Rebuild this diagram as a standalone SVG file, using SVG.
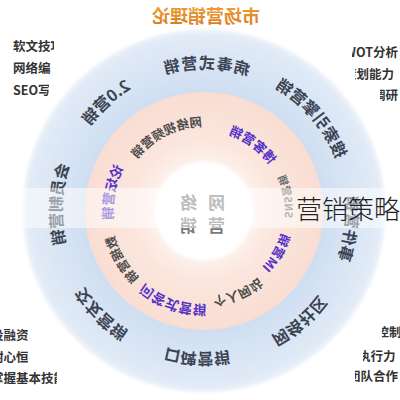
<svg xmlns="http://www.w3.org/2000/svg" width="400" height="400" viewBox="0 0 400 400">
<defs>
<style>
text{font-family:"Noto Sans CJK SC","Noto Sans",sans-serif;font-weight:700}
.side{font-size:12.5px;fill:#333}
.outer{font-size:16px;fill:#3b4352}
.ig{font-size:12.5px;fill:#4d4d4d}
.ip{font-size:13.5px;fill:#5530c8}
.ctr{font-size:17px;fill:#7a7a7a}
</style>
<radialGradient id="gBlue" gradientUnits="userSpaceOnUse" cx="204" cy="211" r="185">
<stop offset="0.64" stop-color="#cedef1"/>
<stop offset="0.95" stop-color="#e2ebf7"/>
<stop offset="0.975" stop-color="#eef3fa"/>
<stop offset="1" stop-color="#ffffff" stop-opacity="0"/>
</radialGradient>
<radialGradient id="gPink" gradientUnits="userSpaceOnUse" cx="204" cy="211" r="119">
<stop offset="0.4" stop-color="#fdf1ec"/>
<stop offset="0.6" stop-color="#fbe6dd"/>
<stop offset="1" stop-color="#f9ddd2"/>
</radialGradient>
<radialGradient id="gWhite" gradientUnits="userSpaceOnUse" cx="204" cy="211" r="52">
<stop offset="0.9" stop-color="#ffffff"/>
<stop offset="1" stop-color="#ffffff" stop-opacity="0"/>
</radialGradient>
<linearGradient id="gTitle" x1="0" y1="0" x2="0" y2="1">
<stop offset="0" stop-color="#f2a63a"/>
<stop offset="1" stop-color="#d9781c"/>
</linearGradient>
<clipPath id="cTL1"><rect x="0" y="30" width="54" height="30"/></clipPath>
<clipPath id="cTL2"><rect x="0" y="58" width="51" height="22"/></clipPath>
<clipPath id="cTL3"><rect x="0" y="80" width="49" height="22"/></clipPath>
<clipPath id="cTR1"><rect x="352" y="40" width="48" height="22"/></clipPath>
<clipPath id="cTR2"><rect x="355" y="62" width="45" height="22"/></clipPath>
<clipPath id="cTR3"><rect x="380" y="84" width="20" height="22"/></clipPath>
<clipPath id="cBR1"><rect x="382" y="322" width="18" height="22"/></clipPath>
<clipPath id="cBR2"><rect x="363" y="346" width="37" height="22"/></clipPath>
<clipPath id="cBR3"><rect x="355" y="367" width="45" height="22"/></clipPath>
<clipPath id="cBL1"><rect x="0" y="325" width="28" height="22"/></clipPath>
<clipPath id="cBL2"><rect x="0" y="347" width="28" height="22"/></clipPath>
<clipPath id="cBL3"><rect x="0" y="368" width="57" height="22"/></clipPath>
<path id="p1" d="M176.24,70.38 A142,142 0 0 1 337.91,215.96"/>
<path id="p2" d="M85.64,121.64 A142,142 0 0 1 303.17,117.84"/>
<path id="p3" d="M55.87,233.95 A142,142 0 0 1 197.74,69.01"/>
<path id="p4" d="M118.66,330.09 A142,142 0 0 1 92.15,114.16"/>
<path id="p5" d="M218.21,351.25 A142,142 0 0 1 54.02,208.52"/>
<path id="p6" d="M308.96,297.05 A142,142 0 0 1 91.64,307.30"/>
<path id="p7" d="M337.46,198.62 A142,142 0 0 1 183.62,352.46"/>
<path id="p8" d="M282.05,98.04 A142,142 0 0 1 292.30,315.36"/>
<path id="qa" d="M162.58,133.39 A84.5,84.5 0 0 1 278.23,191.56"/>
<path id="qb" d="M116.16,205.98 A80,80 0 0 1 214.81,133.24"/>
<path id="qc" d="M133.95,263.07 A81,81 0 0 1 155.5,140.85"/>
<path id="qd" d="M182.04,290.18 A80.4,80.4 0 0 1 120.45,183.50"/>
<path id="qe" d="M235.71,287.28 A86,86 0 0 1 113.98,236.86"/>
<path id="qf" d="M283.76,244.69 A94,94 0 0 1 147.59,291.57"/>
<path id="qg" d="M283.67,179.96 A93,93 0 0 1 211.35,302.72"/>
<path id="qh" d="M239.42,131.03 A91,91 0 0 1 267.22,267.65"/>
</defs>
<rect width="400" height="400" fill="#ffffff"/>
<g id="side-lists">
<text class="side" x="13" y="51" clip-path="url(#cTL1)">软文技巧</text>
<text class="side" x="13" y="73" clip-path="url(#cTL2)">网络编辑</text>
<text class="side" x="13" y="95" clip-path="url(#cTL3)">SEO写作</text>
<text class="side" x="398" y="57" text-anchor="end" clip-path="url(#cTR1)">SWOT分析</text>
<text class="side" x="394" y="79" text-anchor="end" clip-path="url(#cTR2)">策划能力</text>
<text class="side" x="398" y="100" text-anchor="end" clip-path="url(#cTR3)">市场调研</text>
<text class="side" x="364" y="337" clip-path="url(#cBR1)">自控制</text>
<text class="side" x="358" y="361" clip-path="url(#cBR2)">执行力</text>
<text class="side" x="348" y="381" clip-path="url(#cBR3)">团队合作</text>
<text class="side" x="-9" y="340" clip-path="url(#cBL1)">投融资</text>
<text class="side" x="-9" y="362" clip-path="url(#cBL2)">耐心恒心</text>
<text class="side" x="-9" y="383" clip-path="url(#cBL3)">掌握基本技能</text>
</g>
<g id="rings">
<circle cx="204" cy="211" r="185" fill="url(#gBlue)"/>
<circle cx="204" cy="211" r="119" fill="url(#gPink)"/>
<circle cx="204" cy="211" r="52" fill="url(#gWhite)"/>
</g>
<g id="mirrored" transform="matrix(-1 0 0 1 400 0)">
<text id="title" x="194" y="23" text-anchor="middle" font-size="18" fill="url(#gTitle)">市场营销理论</text>
<g id="outer-ring">
<text class="outer"><textPath href="#p1" startOffset="50%" text-anchor="middle">2.0营销</textPath></text>
<text class="outer" letter-spacing="1"><textPath href="#p2" startOffset="50%" text-anchor="middle">病毒式营销</textPath></text>
<text class="outer"><textPath href="#p3" startOffset="50%" text-anchor="middle">搜索引擎营销</textPath></text>
<text class="outer"><textPath href="#p4" startOffset="50%" text-anchor="middle">事件营销</textPath></text>
<text class="outer"><textPath href="#p5" startOffset="50%" text-anchor="middle">网络社区</textPath></text>
<text class="outer"><textPath href="#p6" startOffset="50%" text-anchor="middle">口碑营销</textPath></text>
<text class="outer"><textPath href="#p7" startOffset="50%" text-anchor="middle">交友营销</textPath></text>
<text class="outer"><textPath href="#p8" startOffset="50%" text-anchor="middle">会员制营销</textPath></text>
</g>
<g id="inner-ring">
<text class="ig" style="font-size:12.5px"><textPath href="#qa" startOffset="50%" text-anchor="middle">网络视频营销</textPath></text>
<text class="ip" style="font-size:13px"><textPath href="#qb" startOffset="50%" text-anchor="middle">博客营销</textPath></text>
<text class="ig" style="font-size:10.5px;fill:#6a6a6a"><textPath href="#qc" startOffset="50%" text-anchor="middle">SNS营销</textPath></text>
<text class="ip" style="font-size:12.5px"><textPath href="#qd" startOffset="50%" text-anchor="middle">IM营销</textPath></text>
<text class="ig"><textPath href="#qe" startOffset="50%" text-anchor="middle">个人网站</textPath></text>
<text class="ip"><textPath href="#qf" startOffset="50%" text-anchor="middle">问答式营销</textPath></text>
<text class="ig"><textPath href="#qg" startOffset="50%" text-anchor="middle">数据营销</textPath></text>
<text class="ip"><textPath href="#qh" startOffset="50%" text-anchor="middle">论坛营销</textPath></text>
</g>
<g id="center">
<text class="ctr" x="183.5" y="209" text-anchor="middle">网</text>
<text class="ctr" x="211.5" y="209" text-anchor="middle">络</text>
<text class="ctr" x="183.5" y="232" text-anchor="middle">营</text>
<text class="ctr" x="211.5" y="232" text-anchor="middle">销</text>
</g>
</g>
<rect id="band" x="20" y="188" width="380" height="40" fill="#ffffff" fill-opacity="0.5"/>
<text id="strategy" x="296" y="219" font-size="26" style="font-weight:300;fill:#222">营销策略</text>
</svg>
